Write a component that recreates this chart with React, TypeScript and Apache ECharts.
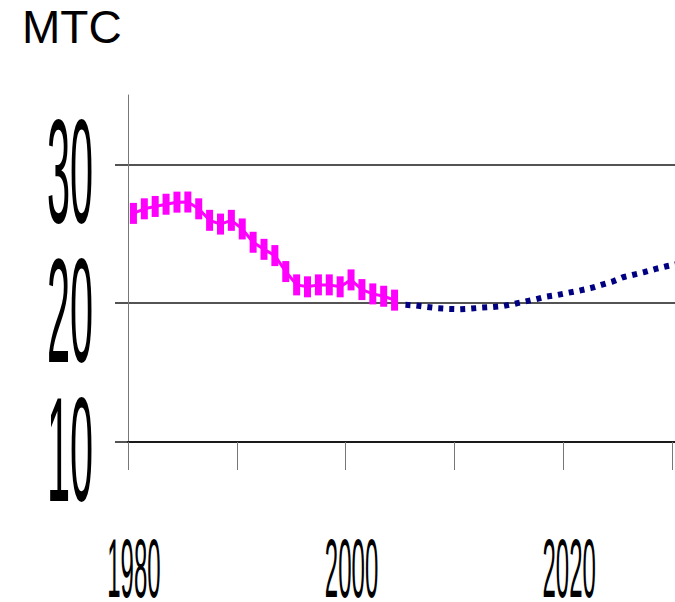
import React, { useEffect, useRef } from "react";
import * as echarts from "echarts";

// Categories: one per year (the visible plot spans 1980-2029; the original plot continues past the crop)
const categories: string[] = [];
for (let y = 1980; y <= 2039; y++) categories.push(String(y));

// Historical series, 1980-2004
const historical = [
  26.47, 26.8, 26.97, 27.13, 27.28, 27.29, 26.8, 25.97, 25.7, 25.97,
  25.35, 24.39, 23.88, 23.43, 22.28, 21.32, 21.18, 21.32, 21.32, 21.18,
  21.68, 20.98, 20.67, 20.5, 20.22,
];
const historicalStart = "1980";

// Projected series, 2005-2031
const projected = [
  19.88, 19.83, 19.73, 19.64, 19.59, 19.57, 19.61, 19.68, 19.73, 19.8,
  19.95, 20.12, 20.29, 20.48, 20.6, 20.76, 20.91, 21.08, 21.32, 21.55,
  21.87, 22.06, 22.25, 22.47, 22.66, 22.83, 23.0,
];
const projectedStart = "2005";

const yTickValues = [10, 20, 30];
const xTickLabels = ["1980", "2000", "2020"];
const titleText = "MTC";

function place(values: number[], start: string): (number | null)[] {
  const out: (number | null)[] = categories.map(() => null);
  const s = categories.indexOf(start);
  values.forEach((v, i) => {
    if (s + i < out.length) out[s + i] = v;
  });
  return out;
}

export default function App() {
  const ref = useRef<HTMLDivElement>(null);
  useEffect(() => {
    if (!ref.current) return;
    const chart = echarts.init(ref.current, null, { renderer: "svg" });
    const font = "'Liberation Sans', Arial, sans-serif";
    chart.setOption({
      animation: false,
      backgroundColor: "#ffffff",
      title: {
        text: titleText,
        left: 22,
        top: 4,
        padding: 0,
        textStyle: { fontSize: 46, fontWeight: "normal", fontFamily: font, color: "#000" },
      },
      grid: {
        left: 128,
        top: 95,
        width: 652.8,
        bottom: 160,
        containLabel: false,
        outerBoundsMode: "none",
      },
      xAxis: {
        type: "category",
        data: categories,
        boundaryGap: true,
        axisLine: { show: true, lineStyle: { color: "#1a1a1a", width: 2 } },
        axisTick: { show: true, interval: 9, length: 28, lineStyle: { color: "#777", width: 1 } },
        axisLabel: { show: false },
        splitLine: { show: false },
      },
      yAxis: {
        type: "value",
        min: 10,
        max: 35,
        interval: 10,
        axisLine: { show: true, lineStyle: { color: "#777", width: 1 } },
        axisTick: {
          show: true,
          length: 13,
          customValues: yTickValues,
          lineStyle: { color: "#1a1a1a", width: 1.5 },
        },
        axisLabel: { show: false },
        splitLine: {
          show: true,
          lineStyle: {
            color: ["#1a1a1a", "#1a1a1a", "#1a1a1a", "rgba(0,0,0,0)"],
            width: 1.5,
          },
        },
      },
      series: [
        {
          name: "projected",
          type: "line",
          data: place(projected, projectedStart),
          symbol: "none",
          z: 2,
          lineStyle: { color: "#000080", width: 6, type: [5, 6], cap: "butt" },
        },
        {
          name: "historical",
          type: "line",
          data: place(historical, historicalStart),
          symbol: "rect",
          symbolSize: [7, 21],
          showSymbol: true,
          showAllSymbol: true,
          z: 3,
          itemStyle: { color: "#ff00ff" },
          lineStyle: { color: "#ff00ff", width: 3 },
        },
      ],
    });

    const graphics: any[] = [];
    yTickValues.forEach((v) => {
      const y = chart.convertToPixel({ yAxisIndex: 0 }, v) as number;
      graphics.push({
        type: "text",
        x: 70,
        y: y + 7,
        scaleX: 1,
        scaleY: 3.58,
        style: {
          text: String(v),
          fontSize: 41.5,
          lineHeight: 30,
          fontFamily: font,
          fill: "#000",
          textAlign: "center",
          textVerticalAlign: "middle",
          align: "center",
          verticalAlign: "middle",
        },
      });
    });
    const axisY = chart.convertToPixel({ yAxisIndex: 0 }, 10) as number;
    xTickLabels.forEach((l) => {
      const x = chart.convertToPixel({ xAxisIndex: 0 }, l) as number;
      graphics.push({
        type: "text",
        x: x + 0.5,
        y: axisY + 126,
        scaleX: 1,
        scaleY: 3.5,
        style: {
          text: l,
          fontSize: 24,
          lineHeight: 17,
          fontFamily: font,
          fill: "#000",
          textAlign: "center",
          textVerticalAlign: "middle",
          align: "center",
          verticalAlign: "middle",
        },
      });
    });
    chart.setOption({ graphic: graphics });

    return () => chart.dispose();
  }, []);
  return (
    <div
      ref={ref}
      style={{ position: "fixed", left: 0, top: 0, width: 675, height: 602, overflow: "hidden" }}
    />
  );
}
